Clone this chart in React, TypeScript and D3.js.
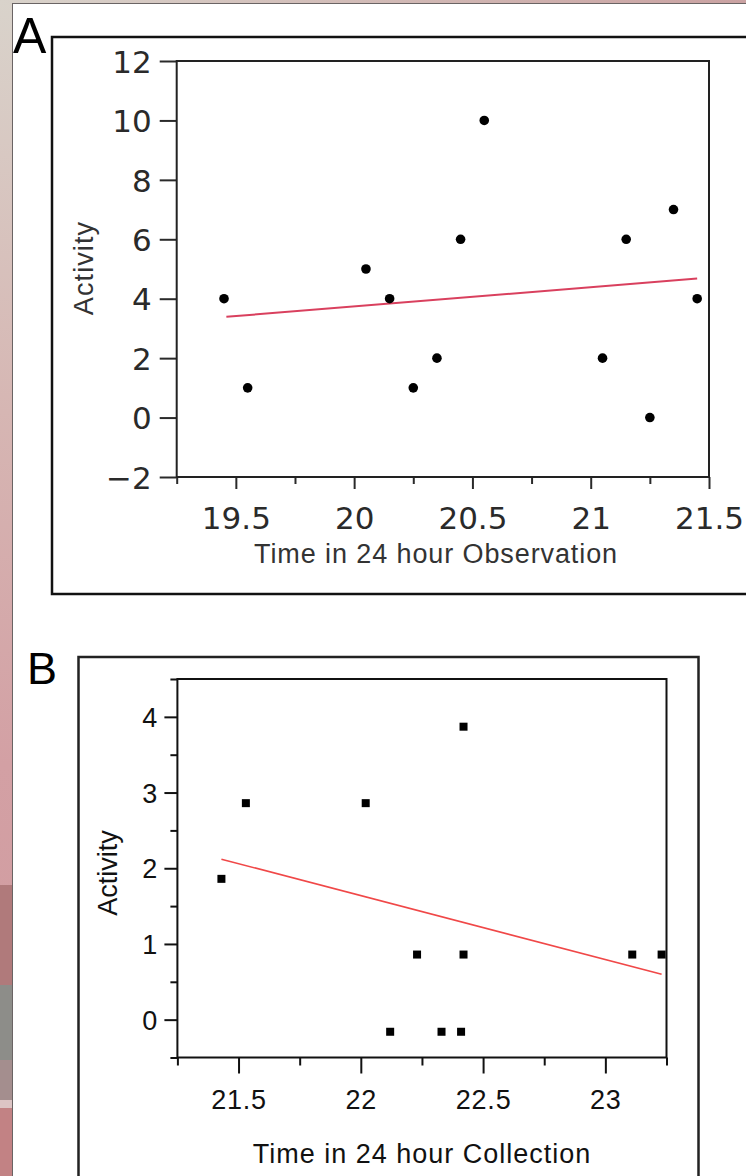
import { useEffect, useRef } from 'react';
import * as d3 from 'd3';

// Panel A: Time in 24 hour Observation
const obsTime = [19.45, 19.55, 20.05, 20.15, 20.25, 20.35, 20.45, 20.55, 21.05, 21.15, 21.25, 21.35, 21.45];
const obsActivity = [4, 1, 5, 4, 1, 2, 6, 10, 2, 6, 0, 7, 4];
const obsFit = [[19.46, 3.39], [21.45, 4.68]];
const obsXMajor = [19.5, 20, 20.5, 21, 21.5];
const obsXMinor = [19.25, 19.75, 20.25, 20.75, 21.25];
const obsYTicks = [-2, 0, 2, 4, 6, 8, 10, 12];

// Panel B: Time in 24 hour Collection
const colTime = [21.43, 21.53, 22.02, 22.12, 22.23, 22.33, 22.41, 22.42, 22.42, 23.11, 23.23];
const colActivity = [1.86, 2.86, 2.86, -0.16, 0.86, -0.16, -0.16, 3.87, 0.86, 0.86, 0.86];
const colFit = [[21.43, 2.12], [23.23, 0.6]];
const colXMajor = [21.5, 22, 22.5, 23];
const colXMinor = [21.25, 21.75, 22.25, 22.75, 23.25];
const colYMajor = [0, 1, 2, 3, 4];
const colYMinor = [-0.5, 0.5, 1.5, 2.5, 3.5, 4.5];

const W = 746;
const H = 1176;

function styleAxis(g, font, size, spacing, color) {
  g.select('.domain').remove();
  g.selectAll('line').attr('stroke', color).attr('stroke-width', 2);
  g.selectAll('text')
    .attr('fill', color)
    .style('font-family', font)
    .style('font-size', `${size}px`)
    .style('letter-spacing', `${spacing}px`);
}

export default function App() {
  const svgRef = useRef(null);

  useEffect(() => {
    const svg = d3.select(svgRef.current);
    svg.selectAll('*').remove();

    // background strip on the left/top
    const defs = svg.append('defs');
    const bg = defs.append('linearGradient').attr('id', 'bgv')
      .attr('x1', '0%').attr('y1', '0%').attr('x2', '0%').attr('y2', '100%');
    bg.append('stop').attr('offset', '0%').attr('stop-color', '#d9d3cb');
    bg.append('stop').attr('offset', '35%').attr('stop-color', '#d6b6b3');
    bg.append('stop').attr('offset', '65%').attr('stop-color', '#d3a0a4');
    bg.append('stop').attr('offset', '100%').attr('stop-color', '#cf9a9e');
    const top = defs.append('linearGradient').attr('id', 'bgh')
      .attr('x1', '0%').attr('y1', '0%').attr('x2', '100%').attr('y2', '0%');
    top.append('stop').attr('offset', '0%').attr('stop-color', '#d9d3cb');
    top.append('stop').attr('offset', '100%').attr('stop-color', '#caa2a2');

    svg.append('rect').attr('width', W).attr('height', H).attr('fill', 'url(#bgv)');
    svg.append('rect').attr('width', W).attr('height', 4).attr('fill', 'url(#bgh)');
    const strips = [
      [885, 985, '#b07a7b'],
      [985, 1060, '#8d8d89'],
      [1060, 1100, '#a48e8e'],
      [1100, 1108, '#dcc4c4'],
      [1108, 1176, '#c28284'],
    ];
    strips.forEach(([y0, y1, c]) => {
      svg.append('rect').attr('x', 0).attr('y', y0).attr('width', 13).attr('height', y1 - y0).attr('fill', c);
    });
    svg.append('rect')
      .attr('x', 12.5).attr('y', 3.5).attr('width', W).attr('height', H)
      .attr('fill', '#ffffff').attr('stroke', '#6a6464').attr('stroke-width', 1);

    // ---------- Panel A ----------
    svg.append('text').attr('x', 13).attr('y', 53)
      .style('font-family', 'Liberation Sans, Arial, sans-serif').style('font-size', '50px')
      .attr('fill', '#000').text('A');
    svg.append('rect').attr('x', 52).attr('y', 37).attr('width', 760).attr('height', 557)
      .attr('fill', 'none').attr('stroke', '#111').attr('stroke-width', 2.5);

    const ax = d3.scaleLinear().domain([19.25, 21.5]).range([176.7, 709]);
    const ay = d3.scaleLinear().domain([-2, 12]).range([477, 61]);
    const dejavu = 'DejaVu Sans, sans-serif';
    const lib = 'Liberation Sans, Arial, sans-serif';

    const aYAxis = svg.append('g').attr('transform', `translate(${ax.range()[0]},0)`)
      .call(d3.axisLeft(ay).tickValues(obsYTicks).tickSize(17).tickPadding(8).tickFormat(d3.format('d')));
    styleAxis(aYAxis, dejavu, 31, 0, '#2a2a2a');
    aYAxis.selectAll('text').attr('dy', '0.36em');

    const aXAxis = svg.append('g').attr('transform', `translate(0,${ay.range()[0]})`)
      .call(d3.axisBottom(ax).tickValues(obsXMajor).tickSize(12).tickPadding(18).tickFormat(d3.format('')));
    styleAxis(aXAxis, dejavu, 31, 0, '#2a2a2a');
    const aXMinorAxis = svg.append('g').attr('transform', `translate(0,${ay.range()[0]})`)
      .call(d3.axisBottom(ax).tickValues(obsXMinor).tickSize(7).tickFormat(() => ''));
    styleAxis(aXMinorAxis, dejavu, 31, 0, '#2a2a2a');

    svg.append('rect')
      .attr('x', ax.range()[0]).attr('y', ay.range()[1])
      .attr('width', ax.range()[1] - ax.range()[0]).attr('height', ay.range()[0] - ay.range()[1])
      .attr('fill', 'none').attr('stroke', '#222').attr('stroke-width', 2);

    svg.append('text')
      .attr('x', 436).attr('y', 563)
      .attr('text-anchor', 'middle').attr('fill', '#333')
      .style('font-family', lib).style('font-size', '27px').style('letter-spacing', '0.9px')
      .text('Time in 24 hour Observation');
    svg.append('text')
      .attr('transform', `translate(93,268) rotate(-90)`)
      .attr('text-anchor', 'middle').attr('fill', '#333')
      .style('font-family', lib).style('font-size', '27px').style('letter-spacing', '1.1px')
      .text('Activity');

    const aLine = d3.line().x((d) => ax(d[0])).y((d) => ay(d[1]));
    svg.append('path').datum(obsFit).attr('d', aLine)
      .attr('fill', 'none').attr('stroke', '#d9405e').attr('stroke-width', 2);

    svg.append('g').selectAll('circle')
      .data(obsTime.map((t, i) => [t, obsActivity[i]]))
      .join('circle')
      .attr('cx', (d) => ax(d[0])).attr('cy', (d) => ay(d[1])).attr('r', 4.8)
      .attr('fill', '#000');

    // ---------- Panel B ----------
    svg.append('text').attr('x', 27).attr('y', 684)
      .style('font-family', lib).style('font-size', '45px')
      .attr('fill', '#000').text('B');
    svg.append('rect').attr('x', 78.5).attr('y', 657).attr('width', 620).attr('height', 600)
      .attr('fill', 'none').attr('stroke', '#222').attr('stroke-width', 2.5);

    const bx = d3.scaleLinear().domain([21.25, 23.25]).range([177.4, 666.5]);
    const by = d3.scaleLinear().domain([-0.5, 4.5]).range([1057.5, 679]);

    const bYAxis = svg.append('g').attr('transform', `translate(${bx.range()[0]},0)`)
      .call(d3.axisLeft(by).tickValues(colYMajor).tickSize(13).tickPadding(7).tickFormat(d3.format('d')));
    styleAxis(bYAxis, lib, 27, 0, '#111');
    bYAxis.selectAll('text').attr('dy', '0.36em');
    const bYMinorAxis = svg.append('g').attr('transform', `translate(${bx.range()[0]},0)`)
      .call(d3.axisLeft(by).tickValues(colYMinor).tickSize(7).tickFormat(() => ''));
    styleAxis(bYMinorAxis, lib, 27, 0, '#111');

    const bXAxis = svg.append('g').attr('transform', `translate(0,${by.range()[0]})`)
      .call(d3.axisBottom(bx).tickValues(colXMajor).tickSize(16).tickPadding(16).tickFormat(d3.format('')));
    styleAxis(bXAxis, lib, 27, 0.8, '#111');
    const bXMinorAxis = svg.append('g').attr('transform', `translate(0,${by.range()[0]})`)
      .call(d3.axisBottom(bx).tickValues(colXMinor).tickSize(8).tickFormat(() => ''));
    styleAxis(bXMinorAxis, lib, 27, 0, '#111');

    svg.append('rect')
      .attr('x', bx.range()[0]).attr('y', by.range()[1])
      .attr('width', bx.range()[1] - bx.range()[0]).attr('height', by.range()[0] - by.range()[1])
      .attr('fill', 'none').attr('stroke', '#111').attr('stroke-width', 2);

    svg.append('text')
      .attr('x', 422).attr('y', 1163)
      .attr('text-anchor', 'middle').attr('fill', '#111')
      .style('font-family', lib).style('font-size', '27px').style('letter-spacing', '1px')
      .text('Time in 24 hour Collection');
    svg.append('text')
      .attr('transform', `translate(117,873) rotate(-90)`)
      .attr('text-anchor', 'middle').attr('fill', '#111')
      .style('font-family', lib).style('font-size', '27px')
      .text('Activity');

    const bLine = d3.line().x((d) => bx(d[0])).y((d) => by(d[1]));
    svg.append('path').datum(colFit).attr('d', bLine)
      .attr('fill', 'none').attr('stroke', '#f04848').attr('stroke-width', 1.6);

    svg.append('g').selectAll('rect')
      .data(colTime.map((t, i) => [t, colActivity[i]]))
      .join('rect')
      .attr('x', (d) => bx(d[0]) - 4).attr('y', (d) => by(d[1]) - 4)
      .attr('width', 8).attr('height', 8)
      .attr('fill', '#000');
  }, []);

  return (
    <div style={{ position: 'absolute', left: 0, top: 0, width: W, height: H, overflow: 'hidden' }}>
      <svg ref={svgRef} width={W} height={H} style={{ display: 'block' }} />
    </div>
  );
}
